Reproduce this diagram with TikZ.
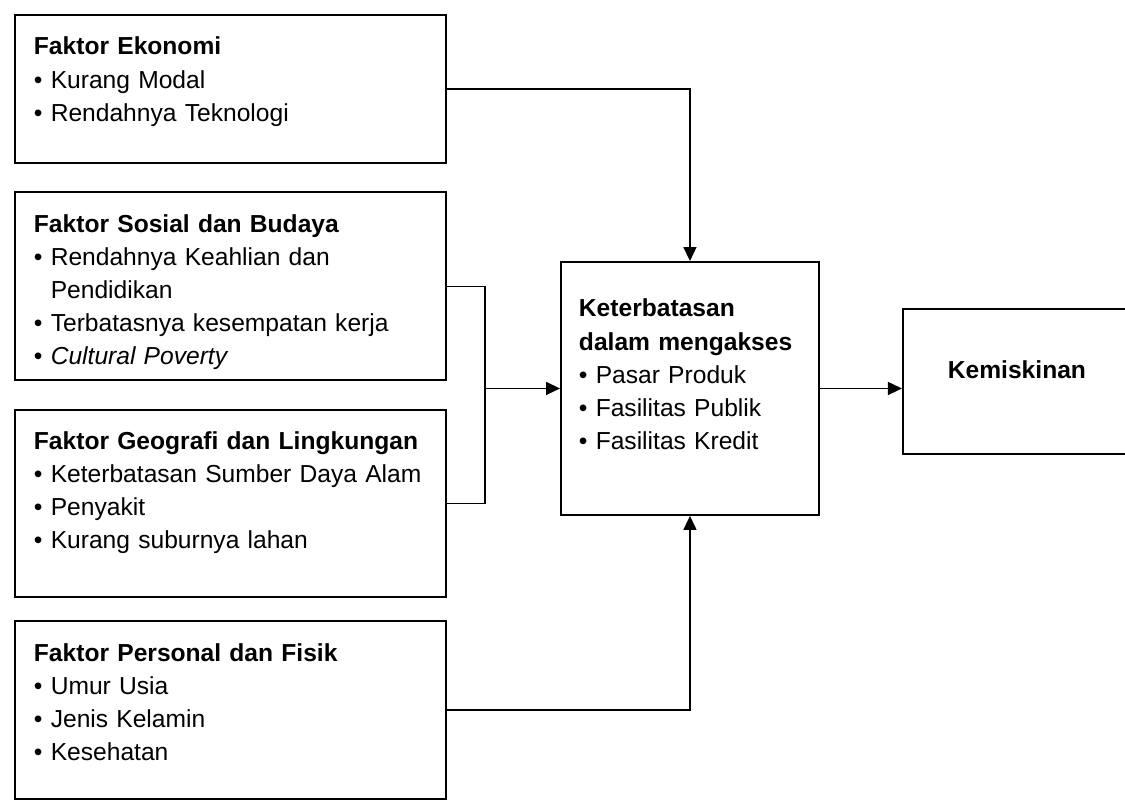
\documentclass[tikz,border=0pt]{standalone}
\usepackage{fontspec}
\setmainfont{Liberation Sans}
\usetikzlibrary{arrows.meta,positioning}
\newcommand{\butir}{\textbullet\ }
\begin{document}
\begin{tikzpicture}[x=0.2mm,y=-0.2mm,>={Triangle[length=2.8mm,width=2.6mm]},node distance=5.5mm and 16.4mm,
box/.style={draw,line width=1.1pt,inner ysep=0pt,align=left,font=\fontsize{14pt}{18.8pt}\selectfont},
faktor/.style={box,inner xsep=3.8mm,text width=78.6mm,text height=8mm},
link/.style={line width=0.9pt}]
\useasboundingbox (0,0) rectangle (1125,806);
\node[faktor,anchor=north west,text depth=21.6mm] (eko) at (14,14) {\textbf{Faktor Ekonomi}\\\butir Kurang Modal\\\butir Rendahnya Teknologi};
\node[faktor,below=of eko,text depth=29.6mm] (sos) {\textbf{Faktor Sosial dan Budaya}\\\butir Rendahnya Keahlian dan\\\phantom{\butir}Pendidikan\\\butir Terbatasnya kesempatan kerja\\\butir \textit{Cultural Poverty}};
\node[faktor,below=of sos,text depth=29.4mm] (geo) {\textbf{Faktor Geografi dan Lingkungan}\\\butir Keterbatasan Sumber Daya Alam\\\butir Penyakit\\\butir Kurang suburnya lahan};
\node[faktor,below=4.5mm of geo,text depth=27.6mm] (pers) {\textbf{Faktor Personal dan Fisik}\\\butir Umur Usia\\\butir Jenis Kelamin\\\butir Kesehatan};
\node[box,anchor=north west,inner xsep=3.6mm,text width=44.4mm,text height=11mm,text depth=39.6mm] (akses) at (560,261) {\textbf{Keterbatasan}\\\textbf{dalam mengakses}\\\butir Pasar Produk\\\butir Fasilitas Publik\\\butir Fasilitas Kredit};
\node[box,right=of akses,yshift=1.4mm,inner xsep=9mm,text width=29mm,text height=14mm,text depth=15mm] (miskin) {\textbf{Kemiskinan}};
\coordinate[left=15mm of akses.west] (gabung);
\draw[link,->] (eko.east) -| (akses.north);
\draw[link] (sos.east) -| (gabung) |- (geo.east);
\draw[link,->] (gabung) -- (akses.west);
\draw[link,->] (pers.east) -| (akses.south);
\draw[link,->] (akses.east) -- (akses.east -| miskin.west);
\end{tikzpicture}
\end{document}
